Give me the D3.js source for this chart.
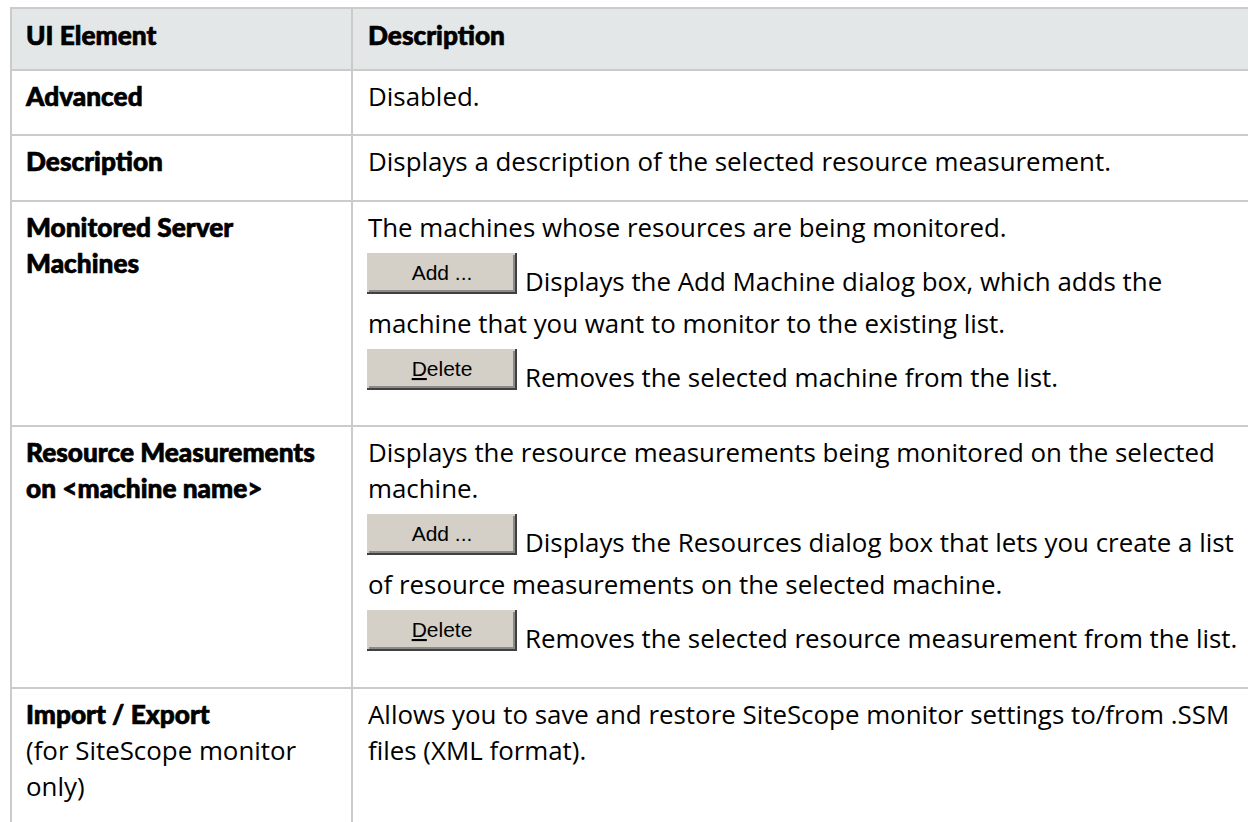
<!DOCTYPE html>
<html><head><meta charset="utf-8">
<script src="https://cdn.jsdelivr.net/npm/d3@7"></script>
<style>html,body{margin:0;padding:0;background:#fff;overflow:hidden}</style>
</head><body><svg id="c" width="1248" height="822"></svg>
<script>
// ---------- data ----------
const headers = ["UI Element", "Description"];
const elementNames = [["Advanced"], ["Description"], ["Monitored Server", "Machines"], ["Resource Measurements", "on <machine name>"], ["Import / Export"]];
const elementNotes = [[], [], [], [], ["(for SiteScope monitor", "only)"]];
const descriptionLines = [
  [["text", "Disabled."]],
  [["text", "Displays a description of the selected resource measurement."]],
  [["text", "The machines whose resources are being monitored."],
   ["Add", "Displays the Add Machine dialog box, which adds the"],
   ["wrap", "machine that you want to monitor to the existing list."],
   ["Delete", "Removes the selected machine from the list."]],
  [["text", "Displays the resource measurements being monitored on the selected"],
   ["wrap", "machine."],
   ["Add", "Displays the Resources dialog box that lets you create a list"],
   ["wrap", "of resource measurements on the selected machine."],
   ["Delete", "Removes the selected resource measurement from the list."]],
  [["text", "Allows you to save and restore SiteScope monitor settings to/from .SSM"],
   ["wrap", "files (XML format)."]]
];
const buttonLabels = {Add: "Add ...", Delete: "Delete"};

// ---------- layout ----------
const W = 1248, H = 822;
const tableTop = 8, headerBottom = 70;
const rowBottoms = [135, 201, 426, 688, 860];
const colLines = [11, 352];
const textX = [26, 368];
const regFont = "'Open Sans', 'Noto Sans', sans-serif";
const boldFont = "Lato, 'Noto Sans', sans-serif";
const borderColor = "#cbcbcb", headerFill = "#e4e7e8", ink = "#000";
const firstOffset = 36, lineStep = 36, toButtonStep = 54, afterButtonStep = 42;
const btnW = 150, btnH = 41, btnBelow = 3, btnGap = 8;

const svg = d3.select("#c");

function fit(str, family, weight, target) {
  const t = svg.append("text").attr("font-family", family).attr("font-weight", weight)
    .attr("font-size", 20).text(str);
  const w = t.node().getComputedTextLength();
  t.remove();
  return 20 * target / w;
}
const regSize = fit(descriptionLines[4][0][1], regFont, 400, 862);
const boldSize = fit(elementNames[3][0], boldFont, 900, 289);

const rowTops = [headerBottom].concat(rowBottoms.slice(0, -1));

// header background
svg.append("rect").attr("x", colLines[0]).attr("y", tableTop).attr("width", W - colLines[0] + 5)
  .attr("height", headerBottom - tableTop).attr("fill", headerFill);

// grid lines
const hLines = [tableTop, headerBottom].concat(rowBottoms.slice(0, -1));
svg.selectAll("line.h").data(hLines).join("line").attr("class", "h")
  .attr("x1", colLines[0] - 1).attr("x2", W + 5).attr("y1", d => d).attr("y2", d => d)
  .attr("stroke", borderColor).attr("stroke-width", 2);
svg.selectAll("line.v").data(colLines).join("line").attr("class", "v")
  .attr("x1", d => d).attr("x2", d => d).attr("y1", tableTop).attr("y2", H + 5)
  .attr("stroke", borderColor).attr("stroke-width", 2);

function boldStyle(sel) {
  return sel.attr("font-family", boldFont).attr("font-weight", 900).attr("font-size", boldSize)
    .attr("fill", ink).attr("stroke", ink).attr("stroke-width", 0.7).attr("stroke-linejoin", "round");
}

// header text
svg.selectAll("text.hdr").data(headers).join("text").attr("class", "hdr")
  .attr("x", (d, i) => textX[i]).attr("y", 45).call(boldStyle).text(d => d);

// left column
elementNames.forEach((names, r) => {
  const top = rowTops[r];
  const all = names.map(t => ({t, bold: true})).concat(elementNotes[r].map(t => ({t, bold: false})));
  all.forEach((d, i) => {
    const t = svg.append("text").attr("x", textX[0]).attr("y", top + firstOffset + i * lineStep).text(d.t);
    if (d.bold) t.call(boldStyle);
    else t.attr("font-family", regFont).attr("font-size", regSize).attr("fill", ink);
  });
});

// right column
descriptionLines.forEach((lines, r) => {
  let y = rowTops[r] + firstOffset;
  let prevButton = false;
  lines.forEach(([kind, str], i) => {
    const isBtn = kind === "Add" || kind === "Delete";
    if (i > 0) y += isBtn ? toButtonStep : (prevButton ? afterButtonStep : lineStep);
    let x = textX[1];
    if (isBtn) {
      const g = svg.append("g").attr("transform", `translate(${x - 1},${y + btnBelow - btnH})`);
      g.append("rect").attr("width", btnW).attr("height", btnH).attr("fill", "#d4d0c8");
      g.append("rect").attr("x", btnW - 2).attr("width", 2).attr("height", btnH).attr("fill", "#404040");
      g.append("rect").attr("y", btnH - 2).attr("width", btnW).attr("height", 2).attr("fill", "#404040");
      g.append("rect").attr("x", btnW - 4).attr("y", 2).attr("width", 2).attr("height", btnH - 4).attr("fill", "#8a8a8a");
      g.append("rect").attr("x", 2).attr("y", btnH - 4).attr("width", btnW - 4).attr("height", 2).attr("fill", "#8a8a8a");
      const lbl = buttonLabels[kind];
      const t = g.append("text").attr("x", btnW / 2).attr("y", 27).attr("text-anchor", "middle")
        .attr("font-family", "Tahoma, 'Liberation Sans', 'DejaVu Sans', sans-serif").attr("font-size", 21).attr("fill", "#000");
      if (kind === "Delete") {
        t.append("tspan").attr("text-decoration", "underline").text(lbl[0]);
        t.append("tspan").text(lbl.slice(1));
      } else t.text(lbl);
      x = textX[1] - 1 + btnW + btnGap;
    }
    svg.append("text").attr("x", x).attr("y", y)
      .attr("font-family", regFont).attr("font-size", regSize).attr("fill", ink).text(str);
    prevButton = isBtn;
  });
});
</script></body></html>
